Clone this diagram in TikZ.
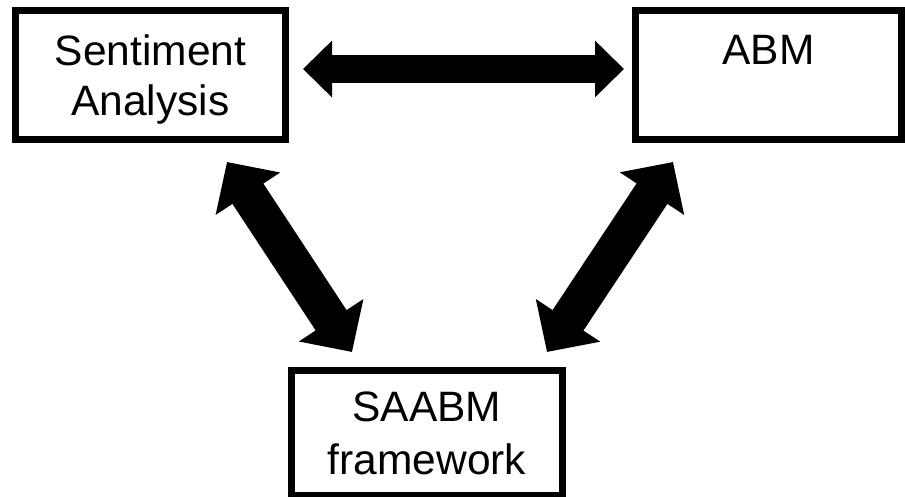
\documentclass[tikz,border=0pt]{standalone}
\usepackage{fontspec}
\setmainfont{Liberation Sans}
\usetikzlibrary{arrows.meta,positioning}
\tikzset{
  block/.style={draw=black,line width=7pt,fill=white,align=center,inner sep=0pt,
    minimum width=270pt,minimum height=129pt,text depth=0pt,
    font=\fontsize{42.5}{50}\selectfont},
  flow/.style={{Triangle[length=29pt,width=55pt]}-{Triangle[length=29pt,width=55pt]},
    line width=28pt,draw=black},
  wideflow/.style={{Triangle[length=38pt,width=75pt]}-{Triangle[length=38pt,width=75pt]},
    line width=37pt,draw=black}
}

\begin{document}
\begin{tikzpicture}[x=1pt,y=1pt]
  \useasboundingbox (0,0) rectangle (905,497);
  \node[block] (sa) at (150.5,422) {Sentiment\\Analysis};
  \node[block,minimum width=266pt] (abm) at (768.5,422) {ABM\\\mbox{}};
  \node[block,minimum width=271pt,minimum height=125pt] (fw) at (427,64) {SAABM\\[3pt]framework};
  \draw[flow] ([shift={(14pt,6pt)}]sa.east)--([shift={(-8pt,6pt)}]abm.west);
  \draw[wideflow] ([shift={(76.5pt,-19pt)}]sa.south)--([shift={(-75pt,15pt)}]fw.north);
  \draw[wideflow] ([shift={(-95.5pt,-19pt)}]abm.south)--([shift={(120pt,15pt)}]fw.north);
\end{tikzpicture}
\end{document}
